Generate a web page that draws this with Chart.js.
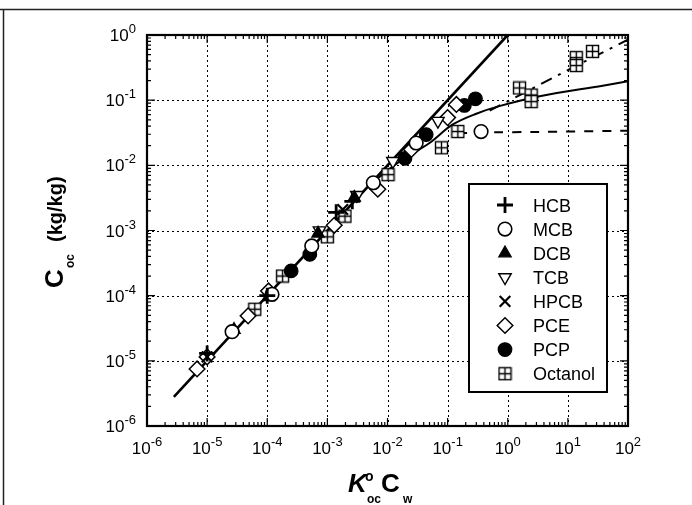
<!DOCTYPE html>
<html><head><meta charset="utf-8">
<script src="https://cdn.jsdelivr.net/npm/chart.js@4.4.1/dist/chart.umd.min.js"></script>
<style>html,body{margin:0;padding:0;background:#fff}#wrap{width:692px;height:505px;position:relative}</style>
</head><body><div id="wrap"><canvas id="c" width="692" height="505"></canvas></div>
<script>
// ---- tick values & labels ----
const xTickValues = [1e-6,1e-5,1e-4,1e-3,1e-2,1e-1,1e0,1e1,1e2];
const xTickExponents = ['-6','-5','-4','-3','-2','-1','0','1','2'];
const yTickValues = [1e-6,1e-5,1e-4,1e-3,1e-2,1e-1,1e0];
const yTickExponents = ['-6','-5','-4','-3','-2','-1','0'];

// ---- series (x = K°oc Cw, y = Coc) ----
const seriesNames = ['HCB','MCB','DCB','TCB','HPCB','PCE','PCP','Octanol'];
const hcbX = [1.0e-5, 1.0e-4, 1.4e-3, 2.6e-3];
const hcbY = [1.3e-5, 1.0e-4, 1.9e-3, 2.8e-3];
const mcbX = [2.6e-5, 1.2e-4, 5.5e-4, 5.8e-3, 3.0e-2, 0.36];
const mcbY = [2.8e-5, 1.05e-4, 5.8e-4, 5.4e-3, 2.2e-2, 0.033];
const dcbX = [2.8e-5, 1.05e-4, 7.0e-4, 2.8e-3];
const dcbY = [3.0e-5, 9.5e-5, 9.0e-4, 3.2e-3];
const tcbX = [7.4e-4, 3.1e-3, 1.23e-2, 6.9e-2];
const tcbY = [1.0e-3, 3.5e-3, 1.16e-2, 0.048];
const hpcbX = [1.0e-5, 1.8e-3];
const hpcbY = [1.15e-5, 2.1e-3];
const pceX = [6.8e-6, 1.0e-5, 4.8e-5, 1.05e-4, 1.3e-3, 6.9e-3, 2.5e-2, 0.10, 0.14];
const pceY = [7.5e-6, 1.15e-5, 4.9e-5, 1.18e-4, 1.2e-3, 4.3e-3, 1.75e-2, 0.054, 0.086];
const pcpX = [2.5e-4, 5.1e-4, 1.95e-2, 4.4e-2, 0.19, 0.29];
const pcpY = [2.4e-4, 4.3e-4, 1.28e-2, 2.96e-2, 0.083, 0.105];
const octX = [6.2e-5, 1.8e-4, 1.0e-3, 1.96e-3, 1.02e-2, 7.9e-2, 0.148, 1.57, 2.45, 2.45, 13.8, 13.8, 25.7];
const octY = [6.2e-5, 2.0e-4, 8.0e-4, 1.66e-3, 7.2e-3, 1.86e-2, 0.033, 0.154, 0.12, 0.095, 0.45, 0.34, 0.56];

// ---- model curves ----
const linearX = [2.8e-6, 1.0];
const linearY = [2.8e-6, 1.0];
const solidCurveX = [5e-3, 1.5e-2, 5e-2, 0.12, 0.3, 0.72, 3.4, 38, 100];
const solidCurveY = [5e-3, 1.1e-2, 2.2e-2, 0.042, 0.062, 0.081, 0.115, 0.167, 0.195];
const dashCurveX = [0.15, 0.5, 3, 100];
const dashCurveY = [0.031, 0.032, 0.0325, 0.034];
const dashDotX = [0.5, 1, 10, 100];
const dashDotY = [0.069, 0.096, 0.29, 0.85];

const pts = (xs, ys) => xs.map((x, i) => ({x, y: ys[i]}));

function makeOct(){
  const c = document.createElement('canvas'); c.width = 15; c.height = 15;
  const g = c.getContext('2d');
  g.fillStyle = '#fff'; g.fillRect(1,1,13,13);
  g.strokeStyle = '#000'; g.lineWidth = 1.4;
  g.strokeRect(1.5,1.5,12,12);
  g.beginPath(); g.moveTo(7.5,1.5); g.lineTo(7.5,13.5); g.moveTo(1.5,7.5); g.lineTo(13.5,7.5); g.stroke();
  return c;
}
const octImg = makeOct();

const markerDefs = [
  {pointStyle:'cross', radius:8, rotation:0, bg:'#000', bw:2.8},
  {pointStyle:'circle', radius:6.8, rotation:0, bg:'#fff', bw:1.6},
  {pointStyle:'triangle', radius:7.2, rotation:0, bg:'#000', bw:1.2},
  {pointStyle:'triangle', radius:7.2, rotation:180, bg:'#fff', bw:1.4},
  {pointStyle:'crossRot', radius:7.5, rotation:0, bg:'#000', bw:2.2},
  {pointStyle:'rectRot', radius:7.8, rotation:0, bg:'#fff', bw:1.5},
  {pointStyle:'circle', radius:6.8, rotation:0, bg:'#000', bw:1.2},
  {pointStyle:octImg, radius:7.5, rotation:0, bg:'#fff', bw:1}
];
const seriesData = [pts(hcbX,hcbY), pts(mcbX,mcbY), pts(dcbX,dcbY), pts(tcbX,tcbY), pts(hpcbX,hpcbY), pts(pceX,pceY), pts(pcpX,pcpY), pts(octX,octY)];

const lineSet = (xs, ys, w, dash, tension) => ({
  data: pts(xs, ys), showLine: true, borderColor: '#000', borderWidth: w, borderDash: dash,
  pointRadius: 0, pointHoverRadius: 0, tension: tension, fill: false, order: 10
});

const datasets = [
  lineSet(linearX, linearY, 2.6, [], 0),
  lineSet(solidCurveX, solidCurveY, 2, [], 0.35),
  lineSet(dashCurveX, dashCurveY, 2, [9, 9], 0.2),
  lineSet(dashDotX, dashDotY, 2, [12, 7, 3, 7], 0),
];
seriesNames.forEach((n, i) => {
  const m = markerDefs[i];
  datasets.push({
    label: n, data: seriesData[i], showLine: false,
    pointStyle: m.pointStyle, pointRadius: m.radius, pointRotation: m.rotation,
    pointBackgroundColor: m.bg, pointBorderColor: '#000', pointBorderWidth: m.bw,
    pointHoverRadius: m.radius, order: 1
  });
});

const FONT = '"Liberation Sans", Arial, Helvetica, sans-serif';

function txt(ctx, s, x, y, font, align){
  ctx.font = font; ctx.textAlign = align || 'left'; ctx.textBaseline = 'alphabetic';
  ctx.fillText(s, x, y);
}

const deco = {
  id: 'deco',
  beforeDatasetsDraw(chart){
    const {ctx, chartArea: a, scales: {x, y}} = chart;
    ctx.save();
    ctx.strokeStyle = '#000'; ctx.lineWidth = 1; ctx.setLineDash([2, 3]);
    xTickValues.forEach(v => {
      const px = Math.round(x.getPixelForValue(v)) + 0.5;
      if (px <= a.left + 2 || px >= a.right - 2) return;
      ctx.beginPath(); ctx.moveTo(px, a.top); ctx.lineTo(px, a.bottom); ctx.stroke();
    });
    yTickValues.forEach(v => {
      const py = Math.round(y.getPixelForValue(v)) + 0.5;
      if (py <= a.top + 2 || py >= a.bottom - 2) return;
      ctx.beginPath(); ctx.moveTo(a.left, py); ctx.lineTo(a.right, py); ctx.stroke();
    });
    ctx.restore();
  },
  afterDatasetsDraw(chart){
    const {ctx, chartArea: a, scales: {x, y}} = chart;
    ctx.save();
    ctx.fillStyle = '#000'; ctx.strokeStyle = '#000';
    // minor/major ticks on all four sides
    ctx.lineWidth = 1.2;
    for (let d = -6; d < 2; d++) {
      for (let k = 1; k < 10; k++) {
        const v = k * Math.pow(10, d);
        const px = x.getPixelForValue(v);
        const L = k === 1 ? 8 : 4;
        if (px < a.left || px > a.right) continue;
        ctx.beginPath();
        ctx.moveTo(px, a.bottom); ctx.lineTo(px, a.bottom - L);
        ctx.moveTo(px, a.top); ctx.lineTo(px, a.top + L);
        ctx.stroke();
      }
    }
    for (let d = -6; d < 0; d++) {
      for (let k = 1; k < 10; k++) {
        const v = k * Math.pow(10, d);
        const py = y.getPixelForValue(v);
        const L = k === 1 ? 8 : 4;
        ctx.beginPath();
        ctx.moveTo(a.left, py); ctx.lineTo(a.left + L, py);
        ctx.moveTo(a.right, py); ctx.lineTo(a.right - L, py);
        ctx.stroke();
      }
    }
    // frame
    ctx.lineWidth = 2.2;
    ctx.strokeRect(a.left, a.top, a.right - a.left, a.bottom - a.top);

    // x tick labels
    xTickValues.forEach((v, i) => {
      const px = x.getPixelForValue(v);
      ctx.font = '17px ' + FONT; const w1 = ctx.measureText('10').width;
      ctx.font = '13px ' + FONT; const w2 = ctx.measureText(xTickExponents[i]).width;
      const left = px - (w1 + w2) / 2;
      txt(ctx, '10', left, 454, '17px ' + FONT);
      txt(ctx, xTickExponents[i], left + w1, 446, '13px ' + FONT);
    });
    // y tick labels
    yTickValues.forEach((v, i) => {
      const py = y.getPixelForValue(v);
      ctx.font = '13px ' + FONT; const w2 = ctx.measureText(yTickExponents[i]).width;
      ctx.font = '17px ' + FONT; const w1 = ctx.measureText('10').width;
      const right = 136;
      txt(ctx, yTickExponents[i], right - w2, py - 2, '13px ' + FONT);
      txt(ctx, '10', right - w2 - w1, py + 6, '17px ' + FONT);
    });

    // x axis title: K°oc Cw
    txt(ctx, 'K', 348, 492, 'italic bold 26px ' + FONT);
    txt(ctx, 'o', 365, 481, 'bold 14px ' + FONT);
    txt(ctx, 'oc', 367, 503, 'bold 12px ' + FONT);
    txt(ctx, 'C', 381, 492, 'bold 26px ' + FONT);
    txt(ctx, 'w', 403, 503, 'bold 12px ' + FONT);

    // y axis title: Coc (kg/kg)
    ctx.save();
    ctx.translate(63, 288); ctx.rotate(-Math.PI / 2);
    txt(ctx, 'C', 0, 0, 'bold 26px ' + FONT);
    txt(ctx, 'oc', 20, 11, 'bold 12px ' + FONT);
    txt(ctx, '(kg/kg)', 46, -1, 'bold 20px ' + FONT);
    ctx.restore();

    // legend
    const lx = 469, ly = 184, lw = 138, lh = 208;
    ctx.fillStyle = '#fff'; ctx.fillRect(lx, ly, lw, lh);
    ctx.lineWidth = 2; ctx.strokeStyle = '#000'; ctx.strokeRect(lx, ly, lw, lh);
    seriesNames.forEach((n, i) => {
      const m = markerDefs[i];
      const cy = 205 + i * 24.1;
      ctx.fillStyle = m.bg; ctx.strokeStyle = '#000'; ctx.lineWidth = m.bw;
      Chart.helpers.drawPoint(ctx, {pointStyle: m.pointStyle, radius: m.radius, rotation: m.rotation, borderWidth: m.bw}, 505, cy);
      ctx.fillStyle = '#000';
      txt(ctx, n, 533, cy + 6.5, '18px ' + FONT);
    });

    // page frame lines
    ctx.strokeStyle = '#222'; ctx.lineWidth = 1.5;
    ctx.beginPath(); ctx.moveTo(0, 9.5); ctx.lineTo(692, 9.5);
    ctx.moveTo(3.5, 9.5); ctx.lineTo(3.5, 505); ctx.stroke();
    ctx.restore();
  }
};

new Chart(document.getElementById('c'), {
  type: 'scatter',
  data: {datasets},
  options: {
    responsive: false, animation: false, devicePixelRatio: 1,
    layout: {padding: {left: 147, right: 64, top: 35, bottom: 79}},
    plugins: {legend: {display: false}, tooltip: {enabled: false}},
    scales: {
      x: {type: 'logarithmic', min: 1e-6, max: 1e2, display: false},
      y: {type: 'logarithmic', min: 1e-6, max: 1, display: false}
    }
  },
  plugins: [deco]
});
</script></body></html>
